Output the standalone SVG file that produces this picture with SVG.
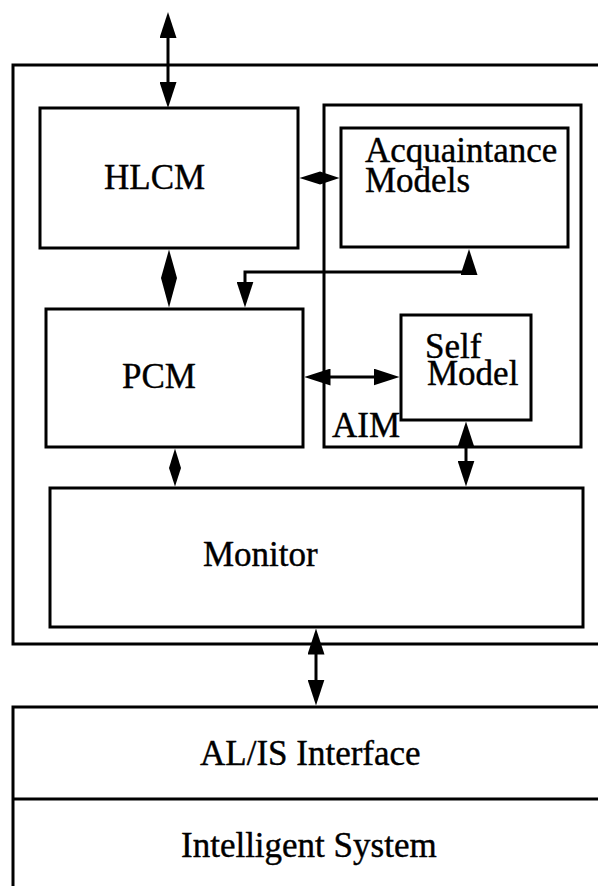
<svg xmlns="http://www.w3.org/2000/svg" width="598" height="886" viewBox="0 0 598 886">
  <style>
    .box { fill: #fff; stroke: #000; stroke-width: 3; }
    .frame { fill: none; stroke: #000; stroke-width: 3; }
    .wire { fill: none; stroke: #000; stroke-width: 3; }
    .solid { fill: #000; stroke: none; }
    text { font-family: "Liberation Serif", "Times New Roman", serif; font-size: 35px; fill: #000; stroke: #000; stroke-width: 0.4; }
  </style>
  <defs>
    <!-- filled arrowhead; tip sits 10px past the line end so the stroke stays hidden -->
    <marker id="head" markerUnits="userSpaceOnUse" viewBox="0 0 26 17" markerWidth="26" markerHeight="17" refX="16" refY="8.5" orient="auto-start-reverse">
      <path d="M0,0 L26,8.5 L0,17 Z" fill="#000"/>
    </marker>
  </defs>

  <!-- agent outer frame (runs off the right edge) -->
  <g id="agent">
    <rect class="frame" x="13" y="65" width="600" height="579"/>
  </g>

  <!-- AIM container -->
  <g id="aim">
    <rect class="frame" x="324" y="105" width="257" height="342"/>
    <text x="332" y="437">AIM</text>
  </g>

  <g id="hlcm">
    <rect class="box" x="40" y="108" width="258" height="140"/>
    <text x="104" y="189">HLCM</text>
  </g>

  <g id="acquaintance-models">
    <rect class="box" x="341" y="128" width="227" height="119"/>
    <text x="365" y="162">Acquaintance</text>
    <text x="365" y="192">Models</text>
  </g>

  <g id="pcm">
    <rect class="box" x="46" y="309" width="257" height="138"/>
    <text x="122" y="388">PCM</text>
  </g>

  <g id="self-model">
    <rect class="box" x="401" y="315" width="130" height="105"/>
    <text x="425" y="358">Self</text>
    <text x="427" y="385">Model</text>
  </g>

  <g id="monitor">
    <rect class="box" x="50" y="488" width="533" height="139"/>
    <text x="203" y="566">Monitor</text>
  </g>

  <!-- interface layer and host system, stacked -->
  <g id="al-is-interface">
    <rect class="frame" x="13" y="707" width="600" height="200"/>
    <text x="200" y="765">AL/IS Interface</text>
  </g>
  <g id="intelligent-system">
    <line class="frame" x1="13" y1="799" x2="613" y2="799"/>
    <text x="181" y="857">Intelligent System</text>
  </g>

  <g id="connectors">
    <!-- external link into HLCM -->
    <line class="wire" x1="168" y1="22" x2="168" y2="98" marker-start="url(#head)" marker-end="url(#head)"/>
    <!-- HLCM <-> PCM -->
    <polygon class="solid" points="169,249.5 177,278 169,307.5 161,278"/>
    <!-- HLCM <-> Acquaintance Models -->
    <polygon class="solid" points="299.5,178 320,171.5 339.5,178 320,184.5"/>
    <!-- Acquaintance Models -> PCM -->
    <path class="wire" d="M245,297.5 L245,272 L469,272 L469,259" marker-start="url(#head)" marker-end="url(#head)"/>
    <!-- PCM <-> Self Model -->
    <line class="wire" x1="314.5" y1="377" x2="389.5" y2="377" marker-start="url(#head)" marker-end="url(#head)"/>
    <!-- PCM <-> Monitor -->
    <polygon class="solid" points="175,448.5 181,468 175,486.5 169,468"/>
    <!-- Self Model <-> Monitor -->
    <line class="wire" x1="466" y1="431.5" x2="466" y2="476.5" marker-start="url(#head)" marker-end="url(#head)"/>
    <!-- Monitor <-> AL/IS Interface -->
    <line class="wire" x1="316" y1="638.5" x2="316" y2="695.5" marker-start="url(#head)" marker-end="url(#head)"/>
  </g>
</svg>
